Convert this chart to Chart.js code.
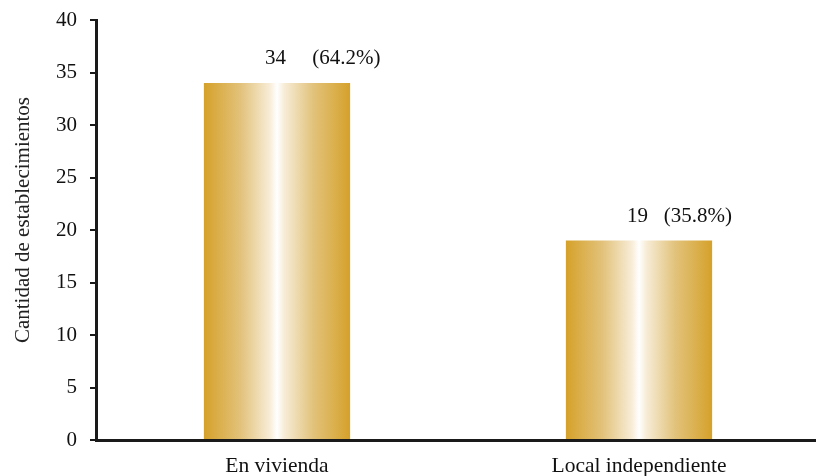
<!DOCTYPE html>
<html>
<head>
<meta charset="utf-8">
<script src="https://cdn.jsdelivr.net/npm/chart.js@4"></script>
<style>
  html, body { margin: 0; padding: 0; background: #fff; overflow: hidden; }
  #wrap { width: 820px; height: 476px; position: relative; }
</style>
</head>
<body>
<div id="wrap"><canvas id="c" width="820" height="476"></canvas></div>
<script>
const categories = ["En vivienda", "Local independiente"];
const values = [34, 19];
const percents = [64.2, 35.8];
const yTicks = [0, 5, 10, 15, 20, 25, 30, 35, 40];
const yTitle = "Cantidad de establecimientos";

const FONT = "'Liberation Serif', 'Times New Roman', serif";
const BAR_PCT = 0.404;

function barGradient(ctx) {
  const chart = ctx.chart;
  const xs = chart.scales && chart.scales.x;
  if (!xs || !chart.chartArea || ctx.dataIndex === undefined) return '#d6a22a';
  const cx = xs.getPixelForValue(ctx.dataIndex);
  const w = (xs.width / categories.length) * BAR_PCT;
  const g = chart.ctx.createLinearGradient(cx - w / 2, 0, cx + w / 2, 0);
  g.addColorStop(0, '#d5a12a');
  g.addColorStop(0.25, '#e2c27a');
  g.addColorStop(0.45, '#f7ecd6');
  g.addColorStop(0.5, '#ffffff');
  g.addColorStop(0.55, '#f7ecd6');
  g.addColorStop(0.75, '#e2c27a');
  g.addColorStop(1, '#d5a12a');
  return g;
}

const gaps = ['     ', '   '];
const barLabels = values.map((v, i) => v + gaps[i] + '(' + percents[i].toFixed(1) + '%)');

const labelPlugin = {
  id: 'barLabels',
  afterDatasetsDraw(chart) {
    const c = chart.ctx;
    const meta = chart.getDatasetMeta(0);
    c.save();
    c.font = '21px ' + FONT;
    c.fillStyle = '#111';
    c.textAlign = 'left';
    c.textBaseline = 'alphabetic';
    meta.data.forEach((el, i) => {
      c.fillText(barLabels[i], el.x - 12, el.y - 19);
    });
    c.restore();
  }
};

const yTitlePlugin = {
  id: 'yTitle',
  afterDraw(chart) {
    const c = chart.ctx;
    c.save();
    c.font = '21px ' + FONT;
    c.fillStyle = '#222';
    c.textAlign = 'center';
    c.textBaseline = 'middle';
    c.translate(23, 220);
    c.rotate(-Math.PI / 2);
    c.fillText(yTitle, 0, 0);
    c.restore();
  }
};

new Chart(document.getElementById('c'), {
  type: 'bar',
  data: {
    labels: categories,
    datasets: [{
      data: values,
      backgroundColor: barGradient,
      borderWidth: 0,
      barPercentage: BAR_PCT,
      categoryPercentage: 1
    }]
  },
  options: {
    responsive: false,
    animation: false,
    devicePixelRatio: 1,
    layout: { padding: { top: 20, right: 0, left: 0, bottom: 0 } },
    plugins: { legend: { display: false }, tooltip: { enabled: false } },
    scales: {
      x: {
        grid: { display: false },
        border: { display: true, color: '#1a1a1a', width: 3 },
        ticks: { color: '#111', font: { family: FONT, size: 21.5 }, padding: 5 },
        afterFit(s) { s.height = 36; s.paddingLeft = 0; s.paddingRight = 0; }
      },
      y: {
        min: 0, max: 40,
        afterBuildTicks(s) { s.ticks = yTicks.map(v => ({ value: v })); },
        grid: { display: true, drawOnChartArea: false, drawTicks: true, tickLength: 6, color: '#1a1a1a', lineWidth: 2 },
        border: { display: true, color: '#1a1a1a', width: 3 },
        ticks: { color: '#111', font: { family: FONT, size: 21 }, padding: 13 },
        afterFit(s) { s.width = 96; s.paddingTop = 0; s.paddingBottom = 0; }
      }
    }
  },
  plugins: [labelPlugin, yTitlePlugin]
});
</script>
</body>
</html>
